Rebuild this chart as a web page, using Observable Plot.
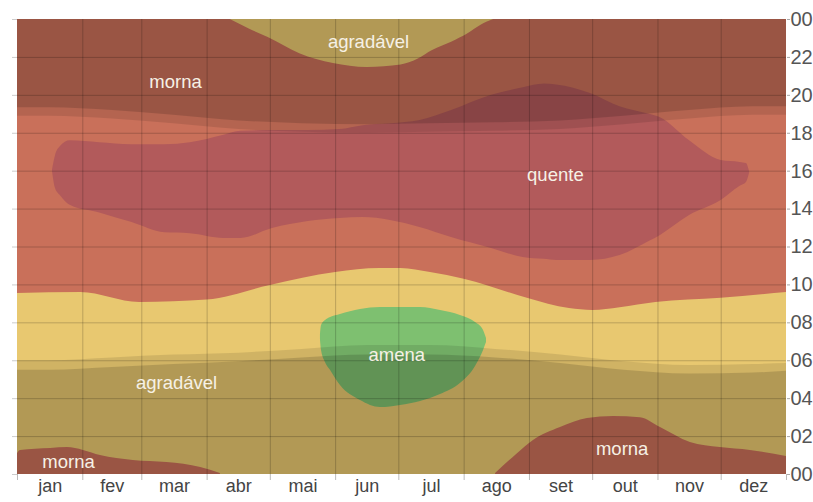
<!DOCTYPE html>
<html>
<head>
<meta charset="utf-8">
<script src="https://cdn.jsdelivr.net/npm/d3@7"></script>
<script src="https://cdn.jsdelivr.net/npm/@observablehq/plot@0.6"></script>
<style>
  body { margin: 0; background: #fff; }
  #chart svg { display: block; }
</style>
</head>
<body>
<div id="chart"></div>
<script>
// ---- categories / ticks ----
const months = ["jan","fev","mar","abr","mai","jun","jul","ago","set","out","nov","dez"];
const monthStarts = [0,31,59,90,120,151,181,212,243,273,304,334,365];
const hourTicks = [0,2,4,6,8,10,12,14,16,18,20,22,24];

// ---- boundary between daytime "agradável" and "morna" (hours) ----
const warmDays  = [0, 30, 58, 90, 120, 151, 172, 182, 196, 212, 242, 262, 273, 286, 303, 334, 365];
const warmStart = [9.55, 9.6, 9.07, 9.2, 9.97, 10.65, 10.86, 10.86, 10.65, 10.3, 9.3, 8.75, 8.65, 8.8, 9.07, 9.3, 9.6];

// ---- "agradável" pocket at the top (late night, mid-year) ----
const topCoolDays   = [101, 110, 119, 134, 150, 166, 182, 190, 197, 206, 214, 220, 226];
const topCoolBottom = [24, 23.5, 23.05, 22.2, 21.68, 21.47, 21.6, 21.9, 22.36, 22.8, 23.26, 23.7, 24];

// ---- "morna" pockets at the bottom (early hours) ----
const lowWarmADays = [0, 1.4, 15.7, 23.7, 31.3, 39.4, 55, 71, 87, 96.3];
const lowWarmATop  = [1.1, 1.27, 1.37, 1.42, 1.27, 1.0, 0.74, 0.63, 0.37, 0.05];
const lowWarmBDays = [226.9, 237.3, 244.9, 257.7, 270.5, 282.9, 295.7, 305.2, 319.4, 333.6, 347.9, 365];
const lowWarmBTop  = [0.05, 1.1, 1.8, 2.48, 2.95, 3.06, 3.0, 2.48, 1.69, 1.42, 1.27, 0.95];

// ---- "quente" region ----
const hotDays  = [16.6, 18, 20.4, 25, 39, 54, 70, 82, 98, 106, 121, 138, 153, 164, 177, 191, 206, 225, 240, 250, 256, 272, 286, 300, 305, 319, 334, 343, 346, 347.5];
const hotLow   = [16.0, 15.1, 14.7, 14.2, 13.8, 13.3, 12.75, 12.7, 12.45, 12.45, 12.97, 13.34, 13.5, 13.55, 13.4, 13.03, 12.5, 11.92, 11.45, 11.35, 11.29, 11.29, 11.55, 12.3, 12.6, 13.66, 14.45, 15.2, 15.4, 15.9];
const hotHigh  = [16.05, 16.8, 17.3, 17.6, 17.5, 17.4, 17.4, 17.5, 17.9, 18.1, 18.15, 18.15, 18.2, 18.4, 18.5, 18.67, 19.2, 20.0, 20.4, 20.6, 20.55, 20.1, 19.4, 19.0, 18.83, 17.6, 16.56, 16.46, 16.4, 15.95];

// ---- "amena" region ----
const coolDays = [143.8, 144.3, 146.2, 148.6, 153.3, 162.8, 172.3, 181.8, 191.3, 200.8, 210.2, 217.4, 221.2, 222.6];
const coolLow  = [7.1, 6.54, 5.9, 5.49, 4.69, 3.9, 3.53, 3.64, 3.85, 4.22, 4.8, 5.7, 6.54, 6.96];
const coolHigh = [7.4, 7.86, 8.12, 8.28, 8.44, 8.7, 8.81, 8.81, 8.81, 8.65, 8.39, 8.02, 7.6, 7.17];

// ---- daylight (hours) ----
const sunDays = [0, 15, 45, 74, 105, 135, 166, 196, 227, 258, 288, 319, 349, 365];
const sunset  = [18.9, 18.9, 18.75, 18.5, 18.2, 18.05, 18.0, 18.05, 18.1, 18.2, 18.45, 18.75, 18.95, 18.95];
const dusk    = [19.35, 19.35, 19.2, 18.95, 18.65, 18.5, 18.45, 18.5, 18.55, 18.65, 18.9, 19.2, 19.4, 19.4];
const sunrise = [6.0, 6.0, 6.15, 6.3, 6.4, 6.6, 6.8, 6.8, 6.6, 6.3, 5.95, 5.75, 5.8, 5.85];
const dawn    = [5.5, 5.5, 5.65, 5.8, 5.95, 6.15, 6.3, 6.3, 6.15, 5.85, 5.5, 5.3, 5.35, 5.45];

// ---- region labels ----
const labelText = ["agradável", "morna", "quente", "amena", "agradável", "morna", "morna"];
const labelDay  = [166.6, 75, 255.3, 180, 75.5, 24.2, 287];
const labelHour = [22.8, 20.7, 15.8, 6.28, 4.8, 0.63, 1.32];

// ---- colours ----
const C = {
  agradavel: "#e8c870",
  morna: "#c9705a",
  quente: "#b25a5b",
  amena: "#7ec070"
};

const zip = (xs, cols) => xs.map((x, i) => {
  const o = {x};
  for (const [k, arr] of Object.entries(cols)) o[k] = arr[i];
  return o;
});

const warm = zip(warmDays, {y: warmStart});
const topCool = zip(topCoolDays, {y: topCoolBottom});
const lowA = zip(lowWarmADays, {y: lowWarmATop});
const lowB = zip(lowWarmBDays, {y: lowWarmBTop});
const hot = zip(hotDays, {lo: hotLow, hi: hotHigh});
const cool = zip(coolDays, {lo: coolLow, hi: coolHigh});
const sun = zip(sunDays, {sunset, dusk, sunrise, dawn});
const labels = labelText.map((t, i) => ({t, x: labelDay[i], y: labelHour[i]}));
const monthMids = months.map((m, i) => (monthStarts[i] + monthStarts[i + 1]) / 2);
const midName = new Map(monthMids.map((d, i) => [d, months[i]]));

const curve = "monotone-x";

const chart = Plot.plot({
  width: 813,
  height: 502,
  marginLeft: 17,
  marginRight: 27,
  marginTop: 19,
  marginBottom: 28,
  style: {fontFamily: "'Liberation Sans', Arial, sans-serif", background: "#fff"},
  x: {domain: [0, 365], axis: null, label: null},
  y: {domain: [0, 24], axis: null, label: null},
  marks: [
    // base
    Plot.areaY([{x: 0}, {x: 365}], {x: "x", y1: 0, y2: 24, fill: C.agradavel}),
    Plot.areaY(warm, {x: "x", y1: "y", y2: 24, fill: C.morna, curve}),
    Plot.areaY(topCool, {x: "x", y1: "y", y2: 24, fill: C.agradavel, curve}),
    Plot.areaY(lowA, {x: "x", y1: 0, y2: "y", fill: C.morna, curve}),
    Plot.areaY(lowB, {x: "x", y1: 0, y2: "y", fill: C.morna, curve}),
    Plot.areaY(hot, {x: "x", y1: "lo", y2: "hi", fill: C.quente, curve}),
    Plot.areaY(cool, {x: "x", y1: "lo", y2: "hi", fill: C.amena, curve}),
    // night shading
    Plot.areaY(sun, {x: "x", y1: "sunset", y2: 24, fill: "#000", fillOpacity: 0.1, curve}),
    Plot.areaY(sun, {x: "x", y1: "dusk", y2: 24, fill: "#000", fillOpacity: 0.14, curve}),
    Plot.areaY(sun, {x: "x", y1: 0, y2: "sunrise", fill: "#000", fillOpacity: 0.1, curve}),
    Plot.areaY(sun, {x: "x", y1: 0, y2: "dawn", fill: "#000", fillOpacity: 0.14, curve}),
    // grid
    Plot.ruleX(monthStarts.slice(1, -1), {y1: 0, y2: 24, stroke: "#000", strokeOpacity: 0.2}),
    Plot.ruleY(hourTicks.slice(1, -1), {stroke: "#000", strokeOpacity: 0.2}),
    // labels
    Plot.text(labels, {x: "x", y: "y", text: "t", fill: "#f6f1e6", fontSize: 18.5}),
    // axes
    Plot.axisX({ticks: monthStarts, tickFormat: () => "", tickSize: 6, stroke: "#bbb", label: null}),
    Plot.axisX({ticks: monthMids, tickFormat: d => midName.get(d), tickSize: 0, tickPadding: 5, fontSize: 18, fill: "#444", label: null}),
    Plot.axisY({anchor: "right", ticks: hourTicks, tickFormat: d => String(d % 24).padStart(2, "0"), tickSize: 3, tickPadding: 1, fontSize: 20, fill: "#555", stroke: "#aaa", label: null}),
    Plot.axisY({anchor: "left", ticks: hourTicks, tickFormat: () => "", tickSize: 5, stroke: "#ccc", label: null})
  ]
});

document.getElementById("chart").appendChild(chart);
</script>
</body>
</html>
